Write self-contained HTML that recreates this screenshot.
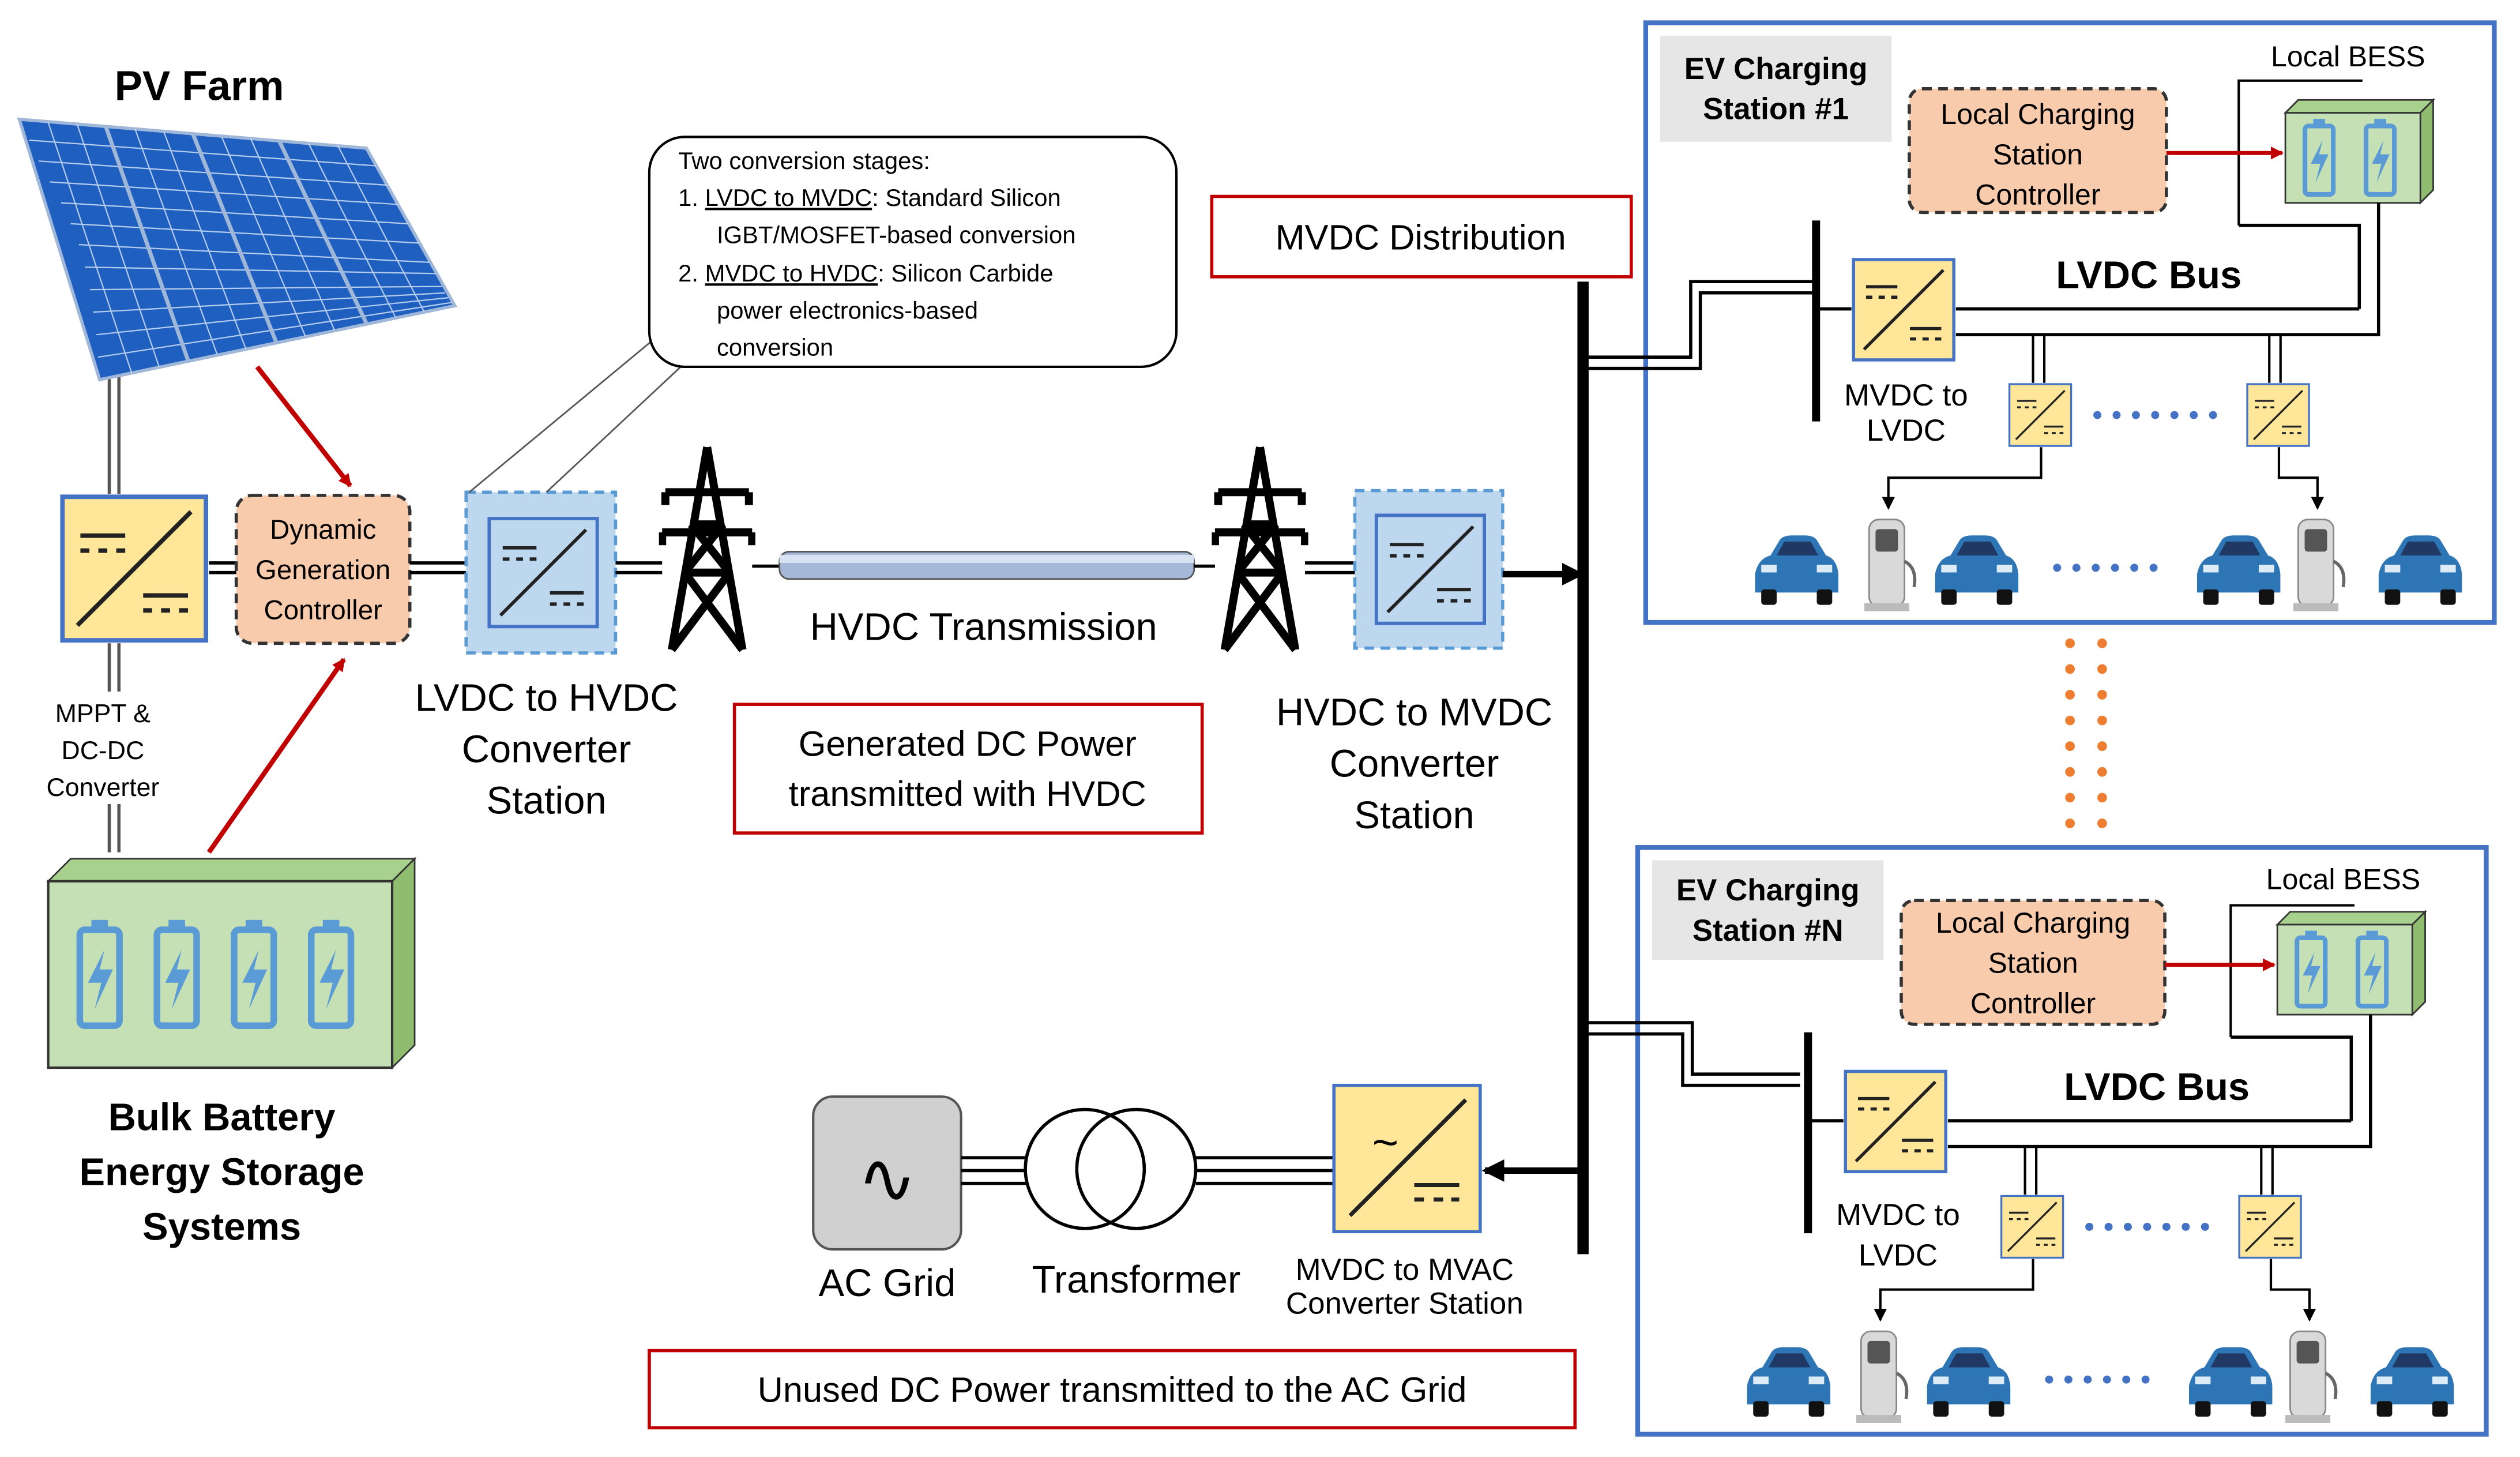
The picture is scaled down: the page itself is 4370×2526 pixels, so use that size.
<!DOCTYPE html>
<html><head><meta charset="utf-8"><style>html,body{margin:0;padding:0;background:#fff}svg{display:block}</style></head>
<body>
<svg width="4370" height="2526" viewBox="0 0 1568 906" xmlns="http://www.w3.org/2000/svg" font-family="Liberation Sans, sans-serif">
<defs>
<symbol id="conv" viewBox="0 0 100 100">
<rect x="2" y="2" width="96" height="96" fill="#ffe699" stroke="#4472c4" stroke-width="3"/>
<line x1="12" y1="88" x2="88" y2="12" stroke="#222" stroke-width="3"/>
<line x1="14" y1="28" x2="44" y2="28" stroke="#222" stroke-width="3"/>
<line x1="14" y1="38" x2="20" y2="38" stroke="#222" stroke-width="3"/><line x1="26" y1="38" x2="32" y2="38" stroke="#222" stroke-width="3"/><line x1="38" y1="38" x2="44" y2="38" stroke="#222" stroke-width="3"/>
<line x1="56" y1="68" x2="86" y2="68" stroke="#222" stroke-width="3"/>
<line x1="56" y1="78" x2="62" y2="78" stroke="#222" stroke-width="3"/><line x1="68" y1="78" x2="74" y2="78" stroke="#222" stroke-width="3"/><line x1="80" y1="78" x2="86" y2="78" stroke="#222" stroke-width="3"/>
</symbol>
<symbol id="convb" viewBox="0 0 100 100">
<rect x="2" y="2" width="96" height="96" fill="#bdd7ee" stroke="#4472c4" stroke-width="3"/>
<line x1="12" y1="88" x2="88" y2="12" stroke="#222" stroke-width="3"/>
<line x1="14" y1="28" x2="44" y2="28" stroke="#222" stroke-width="3"/>
<line x1="14" y1="38" x2="20" y2="38" stroke="#222" stroke-width="3"/><line x1="26" y1="38" x2="32" y2="38" stroke="#222" stroke-width="3"/><line x1="38" y1="38" x2="44" y2="38" stroke="#222" stroke-width="3"/>
<line x1="56" y1="68" x2="86" y2="68" stroke="#222" stroke-width="3"/>
<line x1="56" y1="78" x2="62" y2="78" stroke="#222" stroke-width="3"/><line x1="68" y1="78" x2="74" y2="78" stroke="#222" stroke-width="3"/><line x1="80" y1="78" x2="86" y2="78" stroke="#222" stroke-width="3"/>
</symbol>
<symbol id="tower" viewBox="0 0 60 130">
<g fill="none" stroke="#000" stroke-width="5">
<path d="M30 2 L8 128 M30 2 L52 128 M8 128 L44 80 M52 128 L16 80 M16 80 L40 50 M44 80 L20 50 M4 30 H56 M2 55 H58 M20 50 H40 M16 80 H44"/>
<path d="M4 30 v8 M56 30 v8 M2 55 v8 M58 55 v8"/>
</g></symbol>
<symbol id="car" viewBox="0 0 60 50">
<path d="M4 28 Q6 18 14 16 L20 6 Q22 3 28 3 H36 Q42 3 44 6 L50 16 Q57 18 58 28 V40 H4 Z" fill="#2e75b6"/>
<path d="M18 16 L23 7 H40 L45 16 Z" fill="#1f3864"/>
<rect x="8" y="22" width="10" height="5" fill="#ddebf7"/><rect x="44" y="22" width="10" height="5" fill="#ddebf7"/>
<rect x="8" y="38" width="10" height="10" rx="2" fill="#111"/><rect x="44" y="38" width="10" height="10" rx="2" fill="#111"/>
</symbol>
<symbol id="chg" viewBox="0 0 40 60">
<rect x="8" y="2" width="22" height="54" rx="6" fill="#d9d9d9" stroke="#888"/>
<rect x="12" y="8" width="14" height="14" rx="2" fill="#555"/>
<path d="M30 28 q8 4 6 16" fill="none" stroke="#666" stroke-width="2"/>
<rect x="5" y="54" width="28" height="5" fill="#bbb"/>
</symbol>
<symbol id="batt" viewBox="0 0 30 70">
<rect x="10" y="2" width="10" height="6" fill="#5b9bd5"/>
<rect x="3" y="8" width="24" height="58" rx="3" fill="none" stroke="#5b9bd5" stroke-width="4"/>
<path d="M18 20 L8 40 H16 L12 56 L23 32 H15 Z" fill="#5b9bd5"/>
</symbol>
<marker id="ar" markerWidth="8" markerHeight="8" refX="7" refY="4" orient="auto" markerUnits="userSpaceOnUse"><path d="M0 0 L8 4 L0 8Z" fill="#c00000"/></marker>
<marker id="ak" markerWidth="8" markerHeight="8" refX="7" refY="4" orient="auto" markerUnits="userSpaceOnUse"><path d="M0 0 L8 4 L0 8Z" fill="#000"/></marker>
<marker id="akb" markerWidth="14" markerHeight="14" refX="12" refY="7" orient="auto" markerUnits="userSpaceOnUse"><path d="M0 0 L14 7 L0 14Z" fill="#000"/></marker>
</defs>

<!-- PV -->
<text x="124" y="62" font-size="26" font-weight="bold" text-anchor="middle">PV Farm</text>
<line x1="68" y1="225" x2="68" y2="307" stroke="#555" stroke-width="2"/><line x1="74" y1="225" x2="74" y2="307" stroke="#555" stroke-width="2"/>
<polygon points="12,74 228,92 283,190 62,236" fill="#1f5fbf" stroke="#9fb7d9" stroke-width="2"/>
<g stroke="#cfe0f7" stroke-width="0.8" opacity="0.85">
<line x1="30" y1="76" x2="82" y2="232"/><line x1="48" y1="77" x2="99" y2="228"/><line x1="84" y1="80" x2="135" y2="220"/><line x1="102" y1="82" x2="153" y2="217"/><line x1="138" y1="85" x2="190" y2="209"/><line x1="156" y1="86" x2="208" y2="205"/><line x1="192" y1="89" x2="246" y2="197"/><line x1="210" y1="90" x2="264" y2="194"/>
<line x1="18" y1="87" x2="234" y2="103"/><line x1="24" y1="100" x2="241" y2="115"/><line x1="31" y1="113" x2="248" y2="127"/><line x1="38" y1="126" x2="254" y2="139"/><line x1="44" y1="139" x2="261" y2="151"/><line x1="49" y1="152" x2="267" y2="163"/><line x1="53" y1="166" x2="271" y2="170"/><line x1="56" y1="180" x2="275" y2="178"/><line x1="58" y1="194" x2="277" y2="182"/><line x1="60" y1="208" x2="279" y2="185"/><line x1="61" y1="222" x2="281" y2="188"/>
</g>
<g stroke="#9fb7d9" stroke-width="2.5">
<line x1="66" y1="79" x2="117" y2="224"/><line x1="120" y1="83" x2="172" y2="213"/><line x1="174" y1="88" x2="228" y2="201"/>
</g>
<line x1="160" y1="228" x2="218" y2="302" stroke="#c00000" stroke-width="3" marker-end="url(#ar)"/>

<use href="#conv" x="37" y="307" width="93" height="93"/>
<line x1="130" y1="350" x2="147" y2="350" stroke="#000" stroke-width="2"/><line x1="130" y1="356" x2="147" y2="356" stroke="#000" stroke-width="2"/>
<rect x="147" y="308" width="108" height="92" rx="10" fill="#f8cbad" stroke="#333" stroke-width="2" stroke-dasharray="6,4"/>
<text font-size="17" text-anchor="middle"><tspan x="201" y="335">Dynamic</tspan><tspan x="201" y="360">Generation</tspan><tspan x="201" y="385">Controller</tspan></text>
<line x1="68" y1="400" x2="68" y2="430" stroke="#555" stroke-width="2"/><line x1="74" y1="400" x2="74" y2="430" stroke="#555" stroke-width="2"/>
<line x1="68" y1="500" x2="68" y2="530" stroke="#555" stroke-width="2"/><line x1="74" y1="500" x2="74" y2="530" stroke="#555" stroke-width="2"/>
<text font-size="16" text-anchor="middle"><tspan x="64" y="449">MPPT &amp;</tspan><tspan x="64" y="472">DC-DC</tspan><tspan x="64" y="495">Converter</tspan></text>
<line x1="130" y1="530" x2="214" y2="410" stroke="#c00000" stroke-width="3" marker-end="url(#ar)"/>

<!-- bulk battery -->
<polygon points="30,548 44,534 258,534 244,548" fill="#a9d18e" stroke="#333"/>
<polygon points="244,548 258,534 258,650 244,664" fill="#8fbc6f" stroke="#333"/>
<rect x="30" y="548" width="214" height="116" fill="#c5e0b4" stroke="#333" stroke-width="1.5"/>
<use href="#batt" x="46" y="570" width="32" height="72"/><use href="#batt" x="94" y="570" width="32" height="72"/><use href="#batt" x="142" y="570" width="32" height="72"/><use href="#batt" x="190" y="570" width="32" height="72"/>
<text font-size="24" font-weight="bold" text-anchor="middle"><tspan x="138" y="703">Bulk Battery</tspan><tspan x="138" y="737">Energy Storage</tspan><tspan x="138" y="771">Systems</tspan></text>

<!-- LVDC to HVDC -->
<line x1="255" y1="350" x2="290" y2="350" stroke="#000" stroke-width="2"/><line x1="255" y1="356" x2="290" y2="356" stroke="#000" stroke-width="2"/>
<rect x="290" y="306" width="93" height="100" fill="#bdd7ee" stroke="#5b9bd5" stroke-width="2" stroke-dasharray="6,4"/>
<use href="#convb" x="303" y="317" width="70" height="78"/>
<text font-size="24" text-anchor="middle"><tspan x="340" y="442">LVDC to HVDC</tspan><tspan x="340" y="474">Converter</tspan><tspan x="340" y="506">Station</tspan></text>
<line x1="383" y1="350" x2="412" y2="350" stroke="#000" stroke-width="2"/><line x1="383" y1="356" x2="412" y2="356" stroke="#000" stroke-width="2"/>
<use href="#tower" x="410" y="276" width="60" height="130"/>
<line x1="468" y1="352" x2="486" y2="352" stroke="#000" stroke-width="2"/>
<rect x="485" y="343" width="258" height="17" rx="6" fill="#a6b8d8" stroke="#555"/>
<rect x="485" y="345" width="258" height="5" fill="#d9e2f3"/>
<line x1="743" y1="352" x2="756" y2="352" stroke="#000" stroke-width="2"/>
<use href="#tower" x="754" y="276" width="60" height="130"/>
<text x="612" y="398" font-size="24" text-anchor="middle">HVDC Transmission</text>
<line x1="812" y1="350" x2="843" y2="350" stroke="#000" stroke-width="2"/><line x1="812" y1="356" x2="843" y2="356" stroke="#000" stroke-width="2"/>
<rect x="843" y="305" width="92" height="98" fill="#bdd7ee" stroke="#5b9bd5" stroke-width="2" stroke-dasharray="6,4"/>
<use href="#convb" x="855" y="316" width="70" height="76"/>
<text font-size="24" text-anchor="middle"><tspan x="880" y="451">HVDC to MVDC</tspan><tspan x="880" y="483">Converter</tspan><tspan x="880" y="515">Station</tspan></text>
<line x1="935" y1="357" x2="984" y2="357" stroke="#000" stroke-width="4" marker-end="url(#akb)"/>

<!-- callout -->
<line x1="292" y1="306" x2="420" y2="200" stroke="#555" stroke-width="1"/>
<line x1="340" y1="306" x2="430" y2="222" stroke="#555" stroke-width="1"/>
<rect x="404" y="85" width="328" height="143" rx="22" fill="#fff" stroke="#000" stroke-width="1.5"/>
<text font-size="15"><tspan x="422" y="105">Two conversion stages:</tspan>
<tspan x="422" y="128">1.  </tspan><tspan text-decoration="underline">LVDC to MVDC</tspan><tspan>: Standard Silicon</tspan>
<tspan x="446" y="151">IGBT/MOSFET-based conversion</tspan>
<tspan x="422" y="175">2.  </tspan><tspan text-decoration="underline">MVDC to HVDC</tspan><tspan>: Silicon Carbide</tspan>
<tspan x="446" y="198">power electronics-based</tspan>
<tspan x="446" y="221">conversion</tspan></text>

<rect x="754" y="122" width="261" height="50" fill="#fff" stroke="#c00000" stroke-width="2"/>
<text x="884" y="155" font-size="22" text-anchor="middle">MVDC Distribution</text>
<rect x="457" y="438" width="291" height="80" fill="#fff" stroke="#c00000" stroke-width="2"/>
<text font-size="22" text-anchor="middle"><tspan x="602" y="470">Generated DC Power</tspan><tspan x="602" y="501">transmitted with HVDC</tspan></text>
<rect x="404" y="840" width="576" height="48" fill="#fff" stroke="#c00000" stroke-width="2"/>
<text x="692" y="872" font-size="22" text-anchor="middle">Unused DC Power transmitted to the AC Grid</text>

<!-- main bus -->
<line x1="985" y1="175" x2="985" y2="780" stroke="#000" stroke-width="7"/>

<!-- AC side -->
<rect x="506" y="682" width="92" height="95" rx="12" fill="#d0d0d0" stroke="#555" stroke-width="1.5"/>
<text x="552" y="748" font-size="44" text-anchor="middle">∿</text>
<text x="552" y="806" font-size="24" text-anchor="middle">AC Grid</text>
<g stroke="#000" stroke-width="2"><line x1="598" y1="720" x2="640" y2="720"/><line x1="598" y1="728" x2="640" y2="728"/><line x1="598" y1="736" x2="640" y2="736"/>
<line x1="744" y1="720" x2="830" y2="720"/><line x1="744" y1="728" x2="830" y2="728"/><line x1="744" y1="736" x2="830" y2="736"/></g>
<circle cx="675" cy="727" r="37" fill="#fff" stroke="#000" stroke-width="2"/>
<circle cx="707" cy="727" r="37" fill="none" stroke="#000" stroke-width="2"/>
<text x="707" y="804" font-size="24" text-anchor="middle">Transformer</text>
<rect x="830" y="675" width="91" height="91" fill="#ffe699" stroke="#4472c4" stroke-width="2"/>
<line x1="840" y1="756" x2="912" y2="684" stroke="#222" stroke-width="2.5"/>
<text x="862" y="720" font-size="28" text-anchor="middle">~</text>
<g stroke="#222" stroke-width="2.5"><line x1="880" y1="737" x2="908" y2="737"/><line x1="880" y1="746" x2="886" y2="746"/><line x1="892" y1="746" x2="898" y2="746"/><line x1="903" y1="746" x2="908" y2="746"/></g>
<text font-size="19" text-anchor="middle"><tspan x="874" y="796">MVDC to MVAC</tspan><tspan x="874" y="817">Converter Station</tspan></text>
<line x1="985" y1="728" x2="924" y2="728" stroke="#000" stroke-width="4" marker-end="url(#akb)"/>

<!-- orange dots -->
<g fill="#ed7d31"><circle cx="1288" cy="400" r="3"/><circle cx="1288" cy="416" r="3"/><circle cx="1288" cy="432" r="3"/><circle cx="1288" cy="448" r="3"/><circle cx="1288" cy="464" r="3"/><circle cx="1288" cy="480" r="3"/><circle cx="1288" cy="496" r="3"/><circle cx="1288" cy="512" r="3"/>
<circle cx="1308" cy="400" r="3"/><circle cx="1308" cy="416" r="3"/><circle cx="1308" cy="432" r="3"/><circle cx="1308" cy="448" r="3"/><circle cx="1308" cy="464" r="3"/><circle cx="1308" cy="480" r="3"/><circle cx="1308" cy="496" r="3"/><circle cx="1308" cy="512" r="3"/></g>

<!-- Station 1 -->
<g id="st1">
<rect x="1024" y="14" width="528" height="373" fill="none" stroke="#4472c4" stroke-width="3"/>
<g stroke="#000" stroke-width="2" fill="none"><path d="M985 222 H1052 V175 H1130"/><path d="M985 229 H1058 V182 H1130"/></g>
<rect x="1033" y="22" width="144" height="66" fill="#e7e6e6"/>
<text font-size="19" font-weight="bold" text-anchor="middle"><tspan x="1105" y="49">EV Charging</tspan><tspan x="1105" y="74">Station #1</tspan></text>
<rect x="1188" y="55" width="160" height="77" rx="8" fill="#f8cbad" stroke="#333" stroke-width="2" stroke-dasharray="6,4"/>
<text font-size="18" text-anchor="middle"><tspan x="1268" y="77">Local Charging</tspan><tspan x="1268" y="102">Station</tspan><tspan x="1268" y="127">Controller</tspan></text>
<text x="1461" y="41" font-size="18" text-anchor="middle">Local BESS</text>
<path d="M1393 140 V50 H1470" fill="none" stroke="#000" stroke-width="1.5"/>
<polygon points="1422,70 1430,62 1514,62 1506,70" fill="#a9d18e" stroke="#333"/>
<polygon points="1506,70 1514,62 1514,118 1506,126" fill="#8fbc6f" stroke="#333"/>
<rect x="1422" y="70" width="84" height="56" fill="#c5e0b4" stroke="#333"/>
<use href="#batt" x="1432" y="72" width="22" height="52"/><use href="#batt" x="1470" y="72" width="22" height="52"/>
<line x1="1348" y1="95" x2="1420" y2="95" stroke="#c00000" stroke-width="2.5" marker-end="url(#ar)"/>
<g stroke="#000" stroke-width="2" fill="none"><path d="M1393 140 H1468 V192"/><path d="M1217 192 H1468"/><path d="M1217 208 H1480 V126"/></g>
<line x1="1130" y1="137" x2="1130" y2="262" stroke="#000" stroke-width="5"/>
<line x1="1130" y1="192" x2="1152" y2="192" stroke="#000" stroke-width="2"/>
<use href="#conv" x="1152" y="160" width="65" height="65"/>
<text x="1337" y="179" font-size="24" font-weight="bold" text-anchor="middle">LVDC Bus</text>
<text font-size="19" text-anchor="middle"><tspan x="1186" y="252">MVDC to</tspan><tspan x="1186" y="274">LVDC</tspan></text>
<g stroke="#000" stroke-width="1.5"><line x1="1265" y1="208" x2="1265" y2="238"/><line x1="1272" y1="208" x2="1272" y2="238"/><line x1="1412" y1="208" x2="1412" y2="238"/><line x1="1419" y1="208" x2="1419" y2="238"/></g>
<use href="#conv" x="1249" y="238" width="41" height="40"/><use href="#conv" x="1397" y="238" width="41" height="40"/>
<g fill="#4472c4"><circle cx="1305" cy="258" r="2.5"/><circle cx="1317" cy="258" r="2.5"/><circle cx="1329" cy="258" r="2.5"/><circle cx="1341" cy="258" r="2.5"/><circle cx="1353" cy="258" r="2.5"/><circle cx="1365" cy="258" r="2.5"/><circle cx="1377" cy="258" r="2.5"/></g>
<path d="M1270 278 V297 H1175 V316" fill="none" stroke="#000" stroke-width="1.5" marker-end="url(#ak)"/>
<path d="M1418 278 V297 H1442 V316" fill="none" stroke="#000" stroke-width="1.5" marker-end="url(#ak)"/>
<use href="#car" x="1088" y="330" width="58" height="48"/>
<use href="#chg" x="1155" y="320" width="40" height="62"/>
<use href="#car" x="1200" y="330" width="58" height="48"/>
<g fill="#4472c4"><circle cx="1280" cy="353" r="2.5"/><circle cx="1292" cy="353" r="2.5"/><circle cx="1304" cy="353" r="2.5"/><circle cx="1316" cy="353" r="2.5"/><circle cx="1328" cy="353" r="2.5"/><circle cx="1340" cy="353" r="2.5"/></g>
<use href="#car" x="1363" y="330" width="58" height="48"/>
<use href="#chg" x="1422" y="320" width="40" height="62"/>
<use href="#car" x="1476" y="330" width="58" height="48"/>
</g>

<!-- Station N -->
<g transform="translate(-5,505)">
<rect x="1024" y="22" width="528" height="365" fill="none" stroke="#4472c4" stroke-width="3"/>
<g stroke="#000" stroke-width="2" fill="none"><path d="M990 138 H1052 V170 H1125"/><path d="M990 131 H1058 V163 H1125"/></g>
<rect x="1033" y="30" width="144" height="62" fill="#e7e6e6"/>
<text font-size="19" font-weight="bold" text-anchor="middle"><tspan x="1105" y="55">EV Charging</tspan><tspan x="1105" y="80">Station #N</tspan></text>
<rect x="1188" y="55" width="164" height="77" rx="8" fill="#f8cbad" stroke="#333" stroke-width="2" stroke-dasharray="6,4"/>
<text font-size="18" text-anchor="middle"><tspan x="1270" y="75">Local Charging</tspan><tspan x="1270" y="100">Station</tspan><tspan x="1270" y="125">Controller</tspan></text>
<text x="1463" y="48" font-size="18" text-anchor="middle">Local BESS</text>
<path d="M1393 140 V58 H1470" fill="none" stroke="#000" stroke-width="1.5"/>
<polygon points="1422,70 1430,62 1514,62 1506,70" fill="#a9d18e" stroke="#333"/>
<polygon points="1506,70 1514,62 1514,118 1506,126" fill="#8fbc6f" stroke="#333"/>
<rect x="1422" y="70" width="84" height="56" fill="#c5e0b4" stroke="#333"/>
<use href="#batt" x="1432" y="72" width="22" height="52"/><use href="#batt" x="1470" y="72" width="22" height="52"/>
<line x1="1352" y1="95" x2="1420" y2="95" stroke="#c00000" stroke-width="2.5" marker-end="url(#ar)"/>
<g stroke="#000" stroke-width="2" fill="none"><path d="M1393 140 H1468 V192"/><path d="M1217 192 H1468"/><path d="M1217 208 H1480 V126"/></g>
<line x1="1130" y1="137" x2="1130" y2="262" stroke="#000" stroke-width="5"/>
<line x1="1130" y1="192" x2="1152" y2="192" stroke="#000" stroke-width="2"/>
<use href="#conv" x="1152" y="160" width="65" height="65"/>
<text x="1347" y="179" font-size="24" font-weight="bold" text-anchor="middle">LVDC Bus</text>
<text font-size="19" text-anchor="middle"><tspan x="1186" y="257">MVDC to</tspan><tspan x="1186" y="282">LVDC</tspan></text>
<g stroke="#000" stroke-width="1.5"><line x1="1265" y1="208" x2="1265" y2="238"/><line x1="1272" y1="208" x2="1272" y2="238"/><line x1="1412" y1="208" x2="1412" y2="238"/><line x1="1419" y1="208" x2="1419" y2="238"/></g>
<use href="#conv" x="1249" y="238" width="41" height="40"/><use href="#conv" x="1397" y="238" width="41" height="40"/>
<g fill="#4472c4"><circle cx="1305" cy="258" r="2.5"/><circle cx="1317" cy="258" r="2.5"/><circle cx="1329" cy="258" r="2.5"/><circle cx="1341" cy="258" r="2.5"/><circle cx="1353" cy="258" r="2.5"/><circle cx="1365" cy="258" r="2.5"/><circle cx="1377" cy="258" r="2.5"/></g>
<path d="M1270 278 V297 H1175 V316" fill="none" stroke="#000" stroke-width="1.5" marker-end="url(#ak)"/>
<path d="M1418 278 V297 H1442 V316" fill="none" stroke="#000" stroke-width="1.5" marker-end="url(#ak)"/>
<use href="#car" x="1088" y="330" width="58" height="48"/>
<use href="#chg" x="1155" y="320" width="40" height="62"/>
<use href="#car" x="1200" y="330" width="58" height="48"/>
<g fill="#4472c4"><circle cx="1280" cy="353" r="2.5"/><circle cx="1292" cy="353" r="2.5"/><circle cx="1304" cy="353" r="2.5"/><circle cx="1316" cy="353" r="2.5"/><circle cx="1328" cy="353" r="2.5"/><circle cx="1340" cy="353" r="2.5"/></g>
<use href="#car" x="1363" y="330" width="58" height="48"/>
<use href="#chg" x="1422" y="320" width="40" height="62"/>
<use href="#car" x="1476" y="330" width="58" height="48"/>
</g>
</svg>
</body></html>
